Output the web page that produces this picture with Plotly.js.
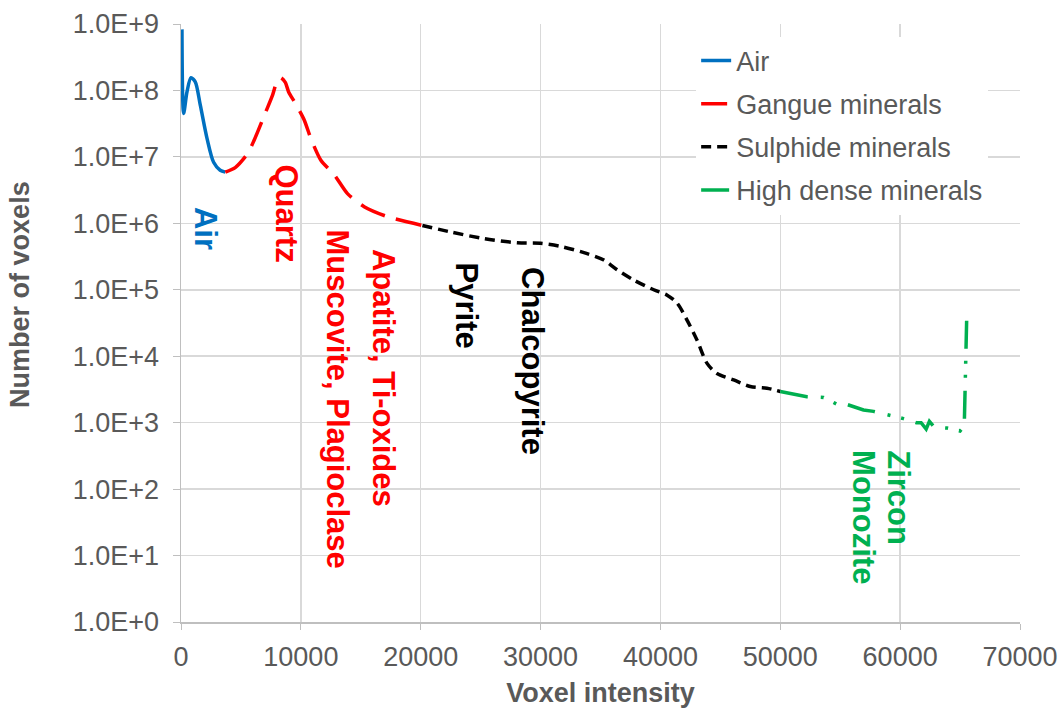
<!DOCTYPE html>
<html>
<head>
<meta charset="utf-8">
<script src="https://cdn.plot.ly/plotly-3.0.1.min.js"></script>
<style>html,body{margin:0;padding:0;background:#fff;}#chart{width:1063px;height:708px;}</style>
</head>
<body>
<div id="chart"></div>
<script>
// ---- Data ----
const airX = [80, 220, 500, 830, 1190, 1610, 2170, 2720, 3270, 3700];
const airY = [8.3e8, 4.5e7, 9.5e7, 1.55e8, 1.35e8, 6.0e7, 1.9e7, 8.3e6, 6.3e6, 5.9e6];

const gangueX = [3700, 4525, 5560, 6100, 7080, 7640, 8060, 8330, 8700, 9000, 9500, 10280, 10830, 11670, 12780, 13890, 15280, 17220, 20140];
const gangueY = [5.9e6, 6.9e6, 1.12e7, 1.78e7, 4.8e7, 8.5e7, 1.45e8, 1.55e8, 1.32e8, 9.3e7, 6.6e7, 3.6e7, 1.9e7, 8.9e6, 5.4e6, 2.8e6, 1.78e6, 1.26e6, 9.3e5];

const sulphideX = [20140, 22500, 25280, 28060, 30000, 31670, 33890, 35280, 36390, 37780, 39440, 40560, 41390, 42220, 43060, 43890, 44720, 46110, 47500, 48890, 50000];
const sulphideY = [9.3e5, 7.4e5, 5.9e5, 5.1e5, 5.0e5, 4.5e5, 3.5e5, 2.8e5, 2.0e5, 1.4e5, 1.0e5, 8.3e4, 6.3e4, 3.5e4, 1.74e4, 7.8e3, 5.5e3, 4.4e3, 3.5e3, 3.3e3, 2.95e3];

const denseX = [50000, 51110, 52220, 53610, 54200, 54720, 55300, 55830, 56400, 56940, 57780, 59170, 60280, 61340, 61750, 62170, 62440, 62860, 63890, 65000, 65350, 65550];
const denseY = [2.95e3, 2.7e3, 2.45e3, 2.4e3, 2.1e3, 1.9e3, 1.95e3, 1.8e3, 1.7e3, 1.55e3, 1.48e3, 1.29e3, 1.15e3, 1.0e3, 1.0e3, 8.0e2, 1.05e3, 8.5e2, 8.3e2, 7.5e2, 8.9e2, 3.5e4];

const seriesNames = ["Air", "Gangue minerals", "Sulphide minerals", "High dense minerals"];

const yTickVals = [1, 1e1, 1e2, 1e3, 1e4, 1e5, 1e6, 1e7, 1e8, 1e9];
const yTickText = ["1.0E+0", "1.0E+1", "1.0E+2", "1.0E+3", "1.0E+4", "1.0E+5", "1.0E+6", "1.0E+7", "1.0E+8", "1.0E+9"];
const xTickVals = [0, 10000, 20000, 30000, 40000, 50000, 60000, 70000];

const labelText = ["Air", "Quartz", "Muscovite, Plagioclase", "Apatite, Ti-oxides", "Pyrite", "Chalcopyrite", "Zircon", "Monozite"];
const labelX = [2050, 8800, 13025, 16942, 23825, 29358, 59850, 56983];
const labelY = [1.89e6, 8.1e6, 8.8e5, 4.4e5, 2.8e5, 2.36e5, 415, 415];
const labelColor = ["#0070C0", "#FF0000", "#FF0000", "#FF0000", "#000000", "#000000", "#00B050", "#00B050"];

// ---- Styling ----
const FONT = "Liberation Sans, Arial, sans-serif";
const GREY = "#595959";

const traces = [
  {x: airX, y: airY, name: seriesNames[0], mode: "lines", legendgroup: "a",
   line: {color: "#0070C0", width: 3.5, shape: "spline", smoothing: 0.8}},
  {x: gangueX, y: gangueY, name: seriesNames[1], mode: "lines", legendgroup: "b",
   line: {color: "#FF0000", width: 3.5, dash: "26px,12px", shape: "spline", smoothing: 0.7}},
  {x: sulphideX, y: sulphideY, name: seriesNames[2], mode: "lines", legendgroup: "c",
   line: {color: "#000000", width: 3.5, dash: "10px,6px", shape: "spline", smoothing: 0.8}},
  {x: denseX, y: denseY, name: seriesNames[3], mode: "lines", legendgroup: "d",
   line: {color: "#00B050", width: 3.5, dash: "28px,13px,3px,11px,3px,12px", shape: "linear"}}
];

const annotations = labelText.map((t, i) => ({
  x: labelX[i], y: Math.log10(labelY[i]), xref: "x", yref: "y",
  text: "<b>" + t + "</b>", showarrow: false, textangle: 90,
  xanchor: "center", yanchor: "top",
  font: {family: FONT, size: 31, color: labelColor[i]}
}));
annotations.push({
  x: -0.192, y: 0.5485, xref: "paper", yref: "paper",
  text: "<b>Number of voxels</b>", showarrow: false, textangle: -90,
  xanchor: "center", yanchor: "middle",
  font: {family: FONT, size: 27, color: GREY}
});

const layout = {
  width: 1063, height: 708,
  margin: {l: 181, r: 43, t: 24, b: 86},
  paper_bgcolor: "#fff", plot_bgcolor: "#fff",
  font: {family: FONT, color: GREY, size: 27},
  showlegend: true,
  legend: {
    x: 0.614, y: 0.979, xanchor: "left", yanchor: "top",
    bgcolor: "#fff", borderwidth: 0,
    font: {family: FONT, size: 27, color: GREY},
    traceorder: "grouped", tracegroupgap: 5
  },
  xaxis: {
    range: [0, 70000], tickvals: xTickVals, tickformat: "d",
    showgrid: true, gridcolor: "#D9D9D9", gridwidth: 1.5,
    showline: true, linecolor: "#BFBFBF", linewidth: 1.5,
    zeroline: false, ticks: "outside", ticklen: 6, tickcolor: "#BFBFBF",
    ticklabelstandoff: 4,
    tickfont: {family: FONT, size: 27, color: GREY},
    title: {text: "<b>Voxel intensity</b>", font: {family: FONT, size: 27, color: GREY}, standoff: 14}
  },
  yaxis: {
    type: "log", range: [0, 9], tickvals: yTickVals, ticktext: yTickText,
    showgrid: true, gridcolor: "#D9D9D9", gridwidth: 1.5,
    showline: true, linecolor: "#BFBFBF", linewidth: 1.5,
    zeroline: false, ticks: "outside", ticklen: 7, tickcolor: "#BFBFBF",
    ticklabelstandoff: 8,
    tickfont: {family: FONT, size: 27, color: GREY}
  },
  annotations: annotations
};

Plotly.newPlot("chart", traces, layout, {displayModeBar: false, staticPlot: true});
</script>
</body>
</html>
